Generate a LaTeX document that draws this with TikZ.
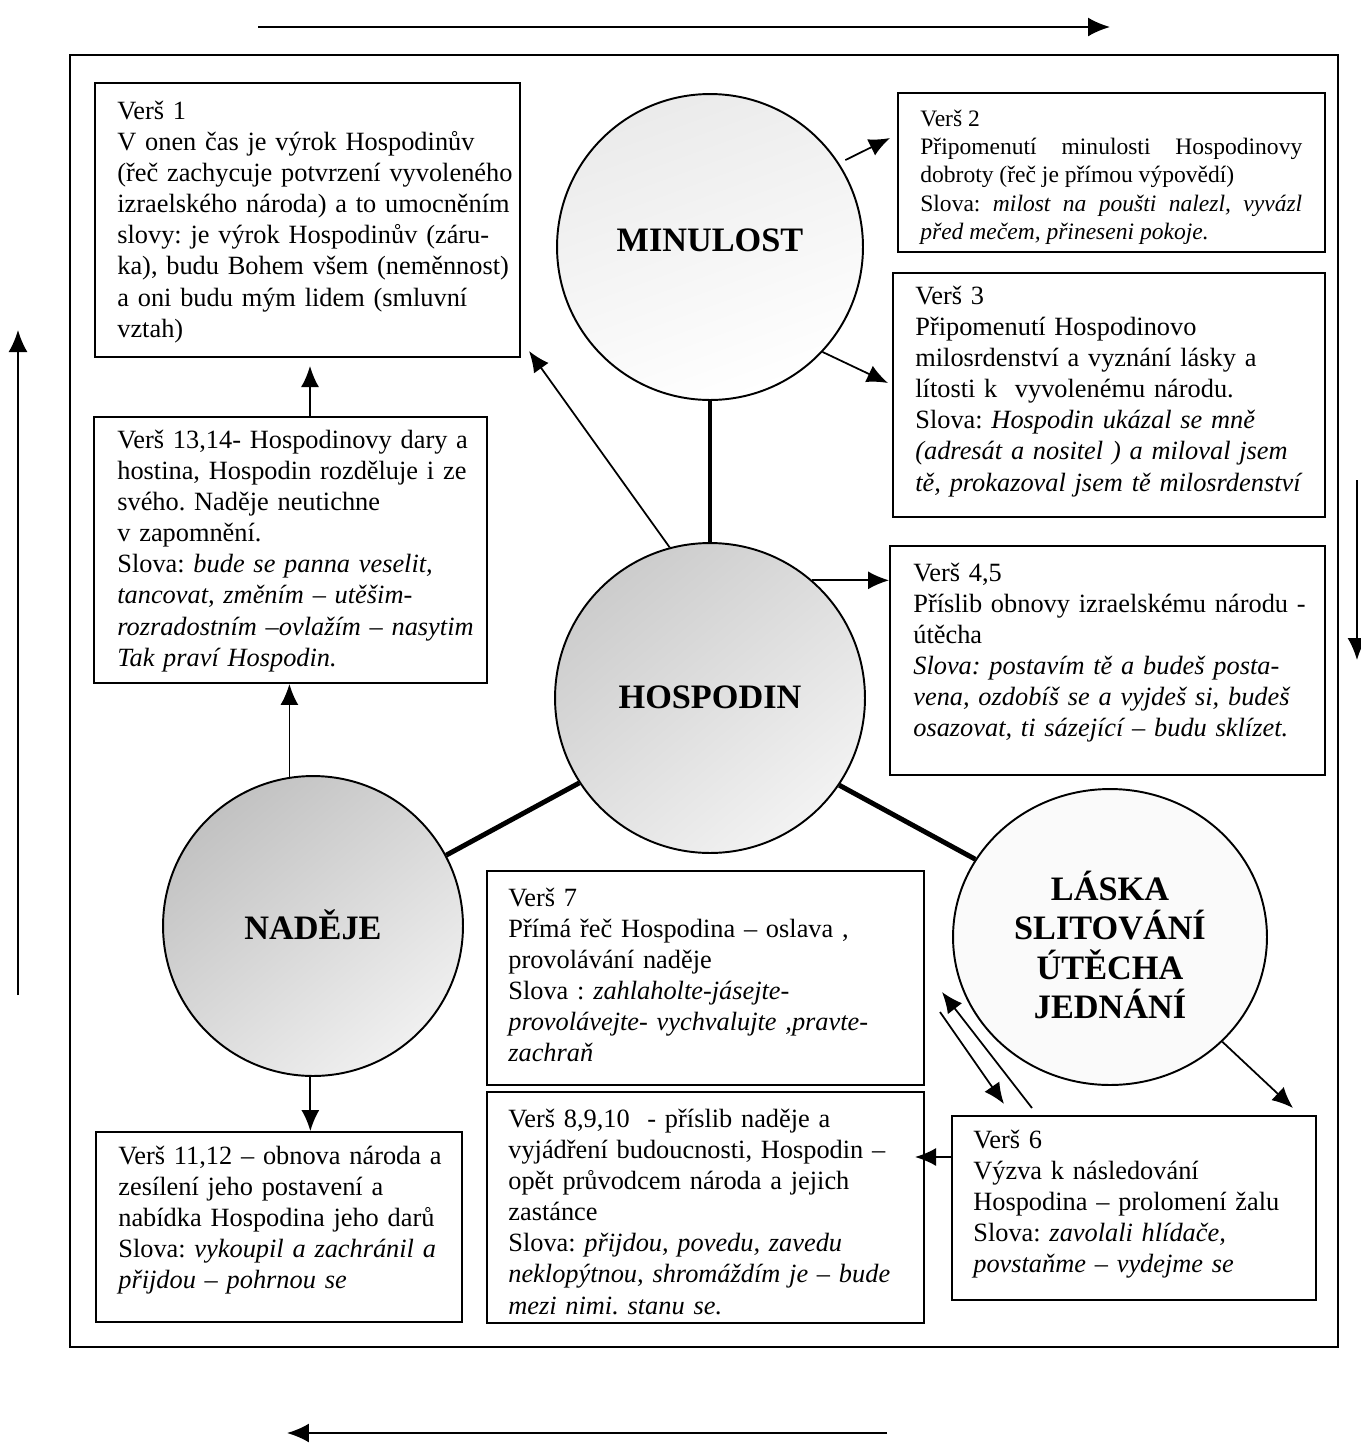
\documentclass[tikz,border=0pt]{standalone}
\usepackage{fontspec}
\setmainfont{Liberation Serif}
\usetikzlibrary{arrows.meta,calc,shapes.geometric}
\frenchspacing
\begin{document}
\begin{tikzpicture}[x=0.02cm,y=-0.02cm,
  box/.style={draw, line width=1.1pt, inner sep=0pt},
  txt/.style={anchor=base west, inner sep=0pt, align=left, font=\fontsize{15}{17.75}\selectfont},
  ring/.style={circle, draw, line width=1.1pt, inner sep=0pt},
  big/.style={inner sep=0pt, align=center, font=\fontsize{19.5}{22.4}\selectfont\bfseries},
  arr/.style={line width=1pt, -{Latex[length=0.42cm,width=0.36cm]}},
  framearr/.style={line width=1.1pt, -{Latex[length=0.44cm,width=0.38cm]}},
  link/.style={line width=2.8pt}]
\useasboundingbox (0,0) rectangle (1361,1444);
\fill[white] (0,0) rectangle (1361,1444);

% outer frame
\draw[line width=0.8pt] (70,55) rectangle (1338,1347);

% circulation arrows around the frame
\coordinate (tA) at (258,27);  \coordinate (tB) at (1110,27);
\coordinate (rA) at (1357,480); \coordinate (rB) at (1357,660);
\coordinate (bA) at (887,1433); \coordinate (bB) at (287,1433);
\coordinate (lA) at (18,995);   \coordinate (lB) at (18,330);
\draw[framearr] (tA) -- (tB);
\draw[framearr] (rA) -- (rB);
\draw[framearr] (bA) -- (bB);
\draw[framearr] (lA) -- (lB);

% circles
\node[ring, minimum size=6.12cm, top color=black!8, bottom color=white, shading angle=20] (min) at (710,247) {};
\node[ring, minimum size=6.2cm, top color=black!20, bottom color=black!5, shading angle=40] (hosp) at (710,698) {};
\node[ring, minimum size=6.0cm, top color=black!24, bottom color=black!6, shading angle=40] (nad) at (313,926) {};
\node[ellipse, draw, line width=1.1pt, inner sep=0pt, minimum width=6.28cm, minimum height=5.92cm, fill=black!2] (lask) at (1110,937) {};

\node[big] (minT) at (710,240) {MINULOST};
\node[big] (hospT) at (710,697) {HOSPODIN};
\node[big] (nadT) at (313,925) {NADĚJE};
\node[big] (laskT) at (1110,945) {LÁSKA\\SLITOVÁNÍ\\ÚTĚCHA\\JEDNÁNÍ};

% links between circles
\draw[link] (min.south) -- (hosp.north);
\draw[link] (hosp.213) -- (nad.28);
\draw[link] (hosp.-34) -- (lask.150);

% boxes
\node[box, minimum width=8.5cm,  minimum height=5.48cm] (b1)    at (307.5,220) {};
\node[box, minimum width=8.54cm, minimum height=3.18cm] (b2)    at (1111.5,172.5) {};
\node[box, minimum width=8.64cm, minimum height=4.88cm] (b3)    at (1109,395) {};
\node[box, minimum width=7.86cm, minimum height=5.32cm] (b1314) at (290.5,550) {};
\node[box, minimum width=8.7cm,  minimum height=4.58cm] (b45)   at (1107.5,660.5) {};
\node[box, minimum width=8.74cm, minimum height=4.28cm] (b7)    at (705.5,978) {};
\node[box, minimum width=8.74cm, minimum height=4.62cm] (b8)    at (705.5,1207.5) {};
\node[box, minimum width=7.28cm, minimum height=3.68cm] (b6)    at (1134,1208) {};
\node[box, minimum width=7.32cm, minimum height=3.8cm]  (b1112) at (279,1227) {};

% box texts
\node[txt, text width=8.1cm] (b1t) at (117,119) {Verš 1\\V onen čas je výrok Hospodinův\\(řeč zachycuje potvrzení vyvoleného\\izraelského národa) a to umocněním\\slovy: je výrok Hospodinův (záru-\\ka), budu Bohem všem (neměnnost)\\a oni budu mým lidem (smluvní\\vztah)};

\node[txt, text width=7.64cm, align=justify, font=\fontsize{13.4}{16.2}\selectfont] (b2t) at (920,126) {Verš 2\\Připomenutí minulosti Hospodinovy\linebreak dobroty (řeč je přímou výpovědí)\\Slova: \textit{milost na poušti nalezl, vyvázl}\linebreak \textit{před mečem, přineseni pokoje.}};

\node[txt, text width=8.2cm] (b3t) at (915,304) {Verš 3\\Připomenutí Hospodinovo\\milosrdenství a vyznání lásky a\\lítosti k~ vyvolenému národu.\\Slova: \textit{Hospodin ukázal se mně}\\\textit{(adresát a nositel ) a miloval jsem}\\\textit{tě, prokazoval jsem tě milosrdenství}};

\node[txt, text width=7.4cm] (b1314t) at (117,448) {Verš 13,14- Hospodinovy dary a\\hostina, Hospodin rozděluje i ze\\svého. Naděje neutichne\\v zapomnění.\\Slova: \textit{bude se panna veselit,}\\\textit{tancovat, změním – utěšim-}\\\textit{rozradostním –ovlažím – nasytim}\\\textit{Tak praví Hospodin.}};

\node[txt, text width=8.24cm] (b45t) at (913,581) {Verš 4,5\\Příslib obnovy izraelskému národu -\\útěcha\\\textit{Slova: postavím tě a budeš posta-}\\\textit{vena, ozdobíš se a vyjdeš si, budeš}\\\textit{osazovat, ti sázející – budu sklízet.}};

\node[txt, text width=8.3cm] (b7t) at (508,906) {Verš 7\\Přímá řeč Hospodina – oslava ,\\provolávání naděje\\Slova : \textit{zahlaholte-jásejte-}\\\textit{provolávejte- vychvalujte ,pravte-}\\\textit{zachraň}};

\node[txt, text width=8.3cm] (b8t) at (508,1127) {Verš 8,9,10~ - příslib naděje a\\vyjádření budoucnosti, Hospodin –\\opět průvodcem národa a jejich\\zastánce\\Slova: \textit{přijdou, povedu, zavedu}\\\textit{neklopýtnou, shromáždím je – bude}\\\textit{mezi nimi. stanu se.}};

\node[txt, text width=6.85cm] (b6t) at (973,1148) {Verš 6\\Výzva k následování\\Hospodina – prolomení žalu\\Slova: \textit{zavolali hlídače,}\\\textit{povstaňme – vydejme se}};

\node[txt, text width=6.88cm] (b1112t) at (118,1164) {Verš 11,12 – obnova národa a\\zesílení jeho postavení a\\nabídka Hospodina jeho darů\\Slova: \textit{vykoupil a zachránil a}\\\textit{přijdou – pohrnou se}};

% arrow tips
\coordinate (t2) at (890,138);
\coordinate (t3) at (888,383);
\coordinate (t1) at (529,351);
\coordinate (u1) at (310,366);
\coordinate (t6) at (1293,1108);
\coordinate (p1s) at (1032,1108);
\coordinate (p1t) at (942,992);
\coordinate (p2s) at (940,1012);
\coordinate (p2t) at (1004,1104);
\coordinate (t8) at (915,1157);

% connectors
\draw[arr, shorten <=0.14cm] (min.33) -- (t2);
\draw[arr] (min.-43) -- (t3);
\draw[arr] (hosp.105) -- (t1);
\draw[arr] (hosp.49) -- (hosp.49 -| b45.west);
\draw[arr] (b1314.north -| u1) -- (u1);
\draw[arr] (nad.99) -- (nad.99 |- b1314.south);
\draw[arr] (nad.-91) -- (nad.-91 |- b1112.north);
\draw[arr] (lask.-43) -- (t6);
\draw[arr] (p1s) -- (p1t);
\draw[arr] (p2s) -- (p2t);
\draw[arr] (b6.west |- t8) -- (t8);
\end{tikzpicture}
\end{document}
